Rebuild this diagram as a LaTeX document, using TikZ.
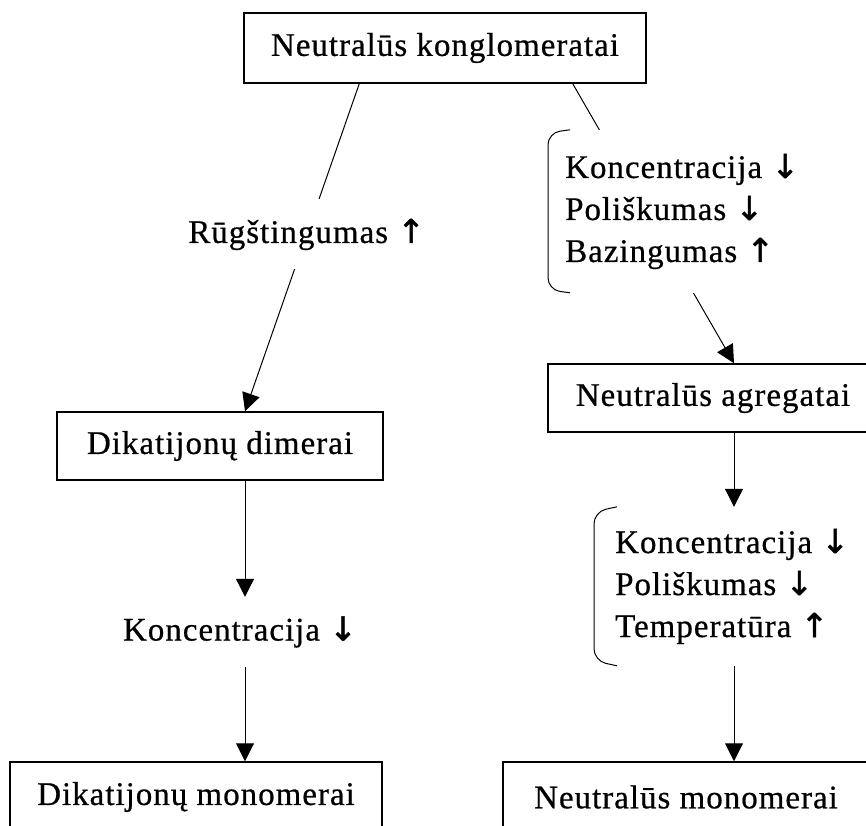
\documentclass[tikz,border=0pt]{standalone}
\usepackage{fontspec}
\setmainfont{Liberation Serif}[LetterSpace=3,FakeBold=0.6]
\newfontfamily\arrowfont{DejaVu Sans}[FakeBold=1.5]
\newcommand{\arrup}{{\arrowfont ↑}}
\newcommand{\arrdn}{{\arrowfont ↓}}
\usepackage{tikz}
\usetikzlibrary{arrows.meta,positioning,calc,backgrounds}

\begin{document}
\begin{tikzpicture}[
    x=1pt, y=-1pt,
    font=\fontsize{33}{42}\selectfont,
    block/.style={
        rectangle,
        draw,
        line width=1.5pt,
        minimum height=70,
        inner sep=0pt
    },
    line/.style={
        draw,
        line width=1pt,
        -{Triangle[length=18pt,width=18pt]}
    },
    plain/.style={
        fill=white,
        inner sep=0pt
    },
    factors/.style={
        fill=white,
        align=left,
        anchor=west,
        inner sep=0pt
    },
    bracket/.style={
        draw,
        line width=1pt,
        rounded corners=12pt
    }
]
\useasboundingbox (0,0) rectangle (866,825);
\clip (0,0) rectangle (866,825);

% Nodes
\node [block, minimum width=402] (kong) at (445,48) {Neutralūs konglomeratai};
\node [block, minimum width=326, minimum height=68] (dim) at (220,446) {Dikatijonų dimerai};
\node [block, minimum width=330, minimum height=68] (agr) at (713,398) {Neutralūs agregatai};
\node [block, minimum width=372] (mono1) at (196,797) {Dikatijonų monomerai};
\node [block, minimum width=366] (mono2) at (686,797) {Neutralūs monomerai};

\node [plain, minimum height=70] (conc) at (240,632) {Koncentracija \arrdn};
\node [factors, minimum height=163] (lst1) at (565,211.5) {Koncentracija \arrdn\\Poliškumas \arrdn\\Bazingumas \arrup};
\node [factors, minimum height=159] (lst2) at (615,586.5) {Koncentracija \arrdn\\Poliškumas \arrdn\\Temperatūra \arrup};

% columns of the vertical arrows
\coordinate (colL) at (245,0);
\coordinate (colR) at (734,0);

% Brackets
\draw [bracket] ([xshift=5]lst1.north west) -- ++(-22,3) -- ++(0,157) -- ++(22,3);
\draw [bracket] ([xshift=2]lst2.north west) -- ++(-23,5) -- ++(0,149) -- ++(23,5);

% Paths
\begin{scope}[on background layer]
% 1. left branch
\path [line] ([xshift=116]kong.south west) -- node [plain, pos=0.46, minimum height=70] (rug) {Rūgštingumas \arrup} (dim.north -| colL);
\path [line] (dim.south -| colL) -- (conc.north -| colL);
\path [line] (conc.south -| colL) -- (mono1.north -| colL);

% 2. right branch
\path [line] ([xshift=-74]kong.south east) -- (agr.north -| colR);
\path [line] (agr.south -| colR) -- (lst2.north -| colR);
\path [line] (lst2.south -| colR) -- (mono2.north -| colR);
\end{scope}

\end{tikzpicture}
\end{document}
